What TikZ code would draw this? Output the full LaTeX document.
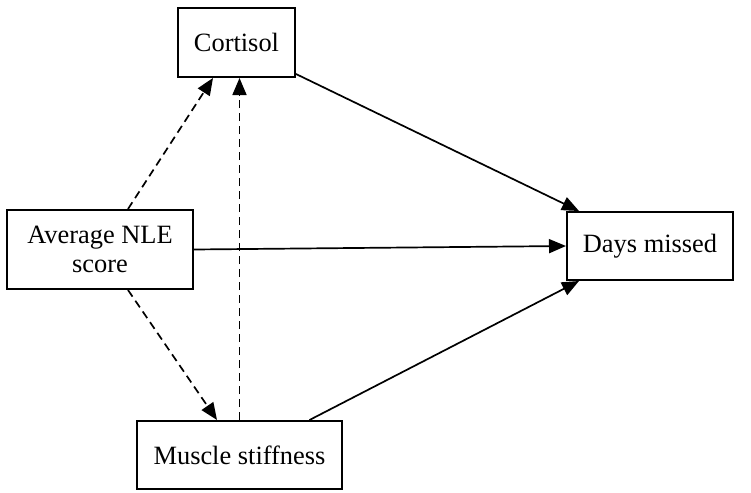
\documentclass[tikz,border=0pt]{standalone}
\usepackage{fontspec}
\setmainfont{Liberation Serif}
\usetikzlibrary{arrows.meta}
\begin{document}
\begin{tikzpicture}[x=0.5pt,y=-0.5pt,font=\fontsize{13.2pt}{14.5pt}\selectfont, >={Triangle[length=8.5pt,width=7pt]}]
    \tikzstyle{var box}=[draw,line width=1pt,inner sep=0,align=center]
    \tikzstyle{direct}=[->,line width=0.85pt]
    \tikzstyle{indirect}=[->,line width=0.85pt,dash pattern=on 4pt off 2.5pt]

    \useasboundingbox (0,0) rectangle (751,493);

    \node(cort)[var box,minimum width=58.5pt,minimum height=34.5pt] at (236.5,42.5){Cortisol};
    \node(nle)[var box,minimum width=93pt,minimum height=39.5pt] at (100,249.5){Average NLE\\score};
    \node(days)[var box,minimum width=83pt,minimum height=34pt] at (650,246){Days missed};
    \node(ms)[var box,minimum width=102.5pt,minimum height=34pt] at (239.5,455){Muscle stiffness};

    \draw[indirect]([xshift=14pt]nle.north)--([xshift=-11.75pt]cort.south);
    \draw[indirect](ms.north)--(ms.north |- cort.south);
    \draw[indirect]([xshift=14pt]nle.south)--([xshift=-11.25pt]ms.north);
    \draw[direct]([yshift=2pt]cort.south east)--([xshift=6.5pt]days.north west);
    \draw[direct](nle.east)--(days.west);
    \draw[direct]([xshift=35pt]ms.north)--([xshift=6.5pt]days.south west);
\end{tikzpicture}
\end{document}
